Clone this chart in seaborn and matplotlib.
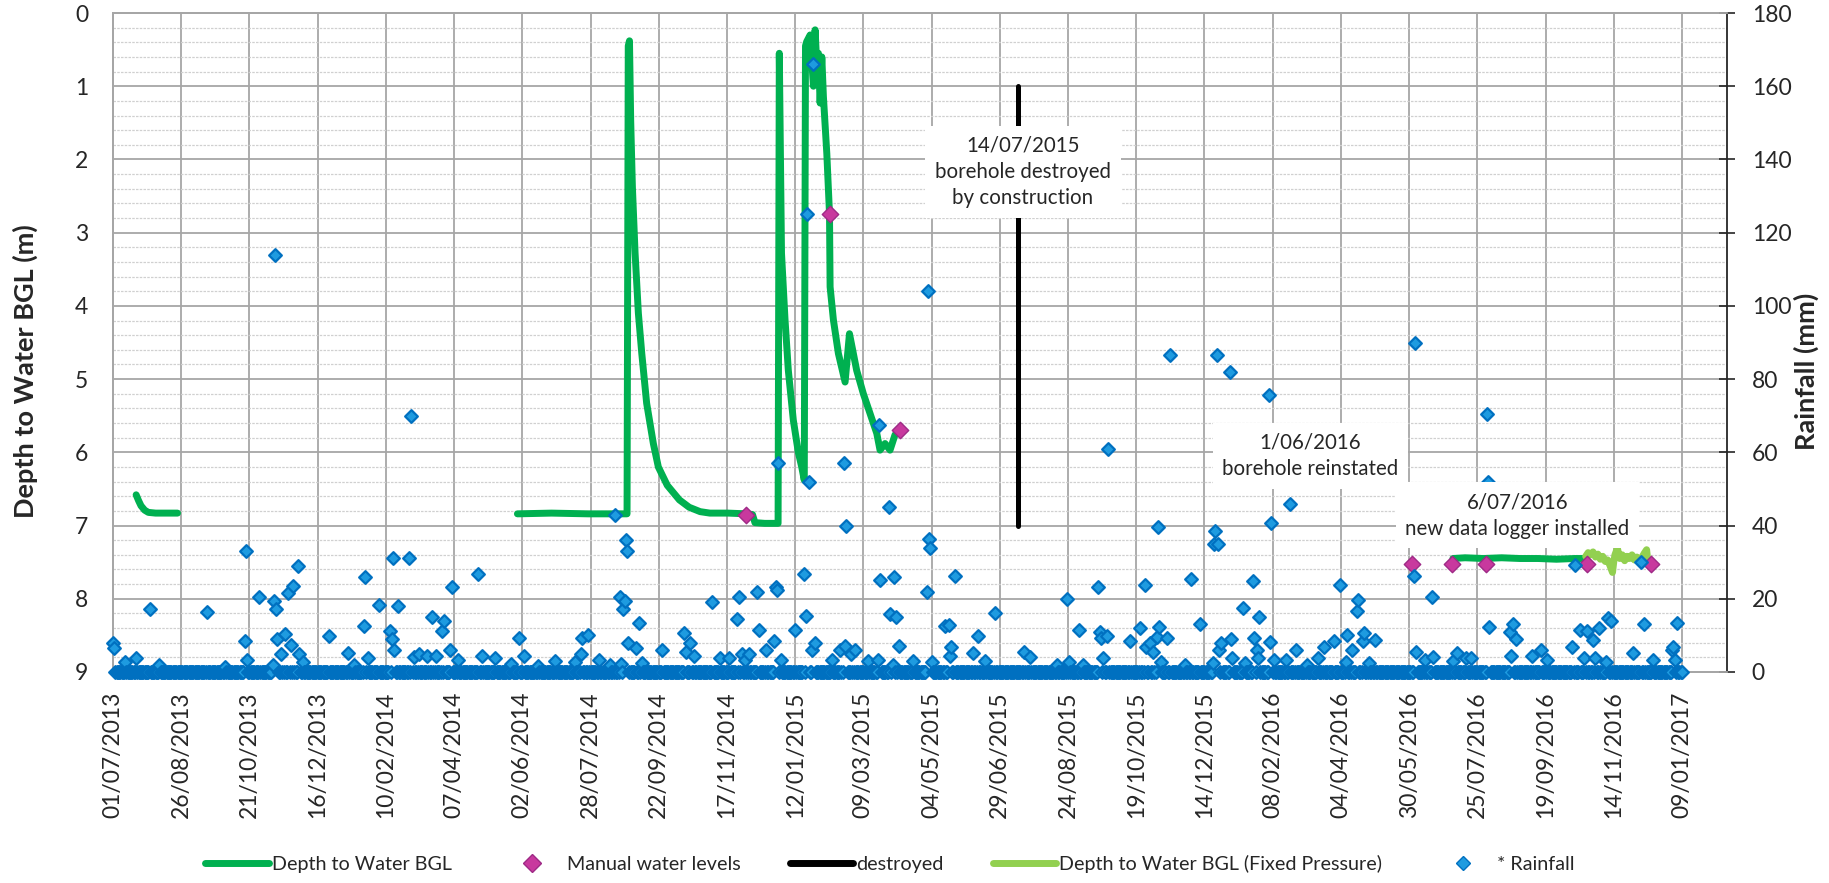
import numpy as np
import pandas as pd
import matplotlib
matplotlib.use("Agg")
import matplotlib.pyplot as plt
import matplotlib.dates as mdates
from matplotlib.ticker import MultipleLocator, FixedLocator
from matplotlib.lines import Line2D
import seaborn as sns

# ---------------------------------------------------------------- data
START = pd.Timestamp("2013-07-01")          # day 0 of every series below
LAST_RAIN_DAY = 1288                        # daily rain record ends 09/01/2017

# Daily rainfall (mm); days not listed recorded 0 mm
rain_days = [
    0, 1, 10, 19, 30, 38, 77, 92, 108, 109, 110, 120, 131, 132, 133, 134, 135,
    138, 141, 144, 146, 148, 152, 153, 156, 177, 193, 198, 206, 207, 209, 218,
    227, 229, 230, 231, 234, 243, 245, 247, 251, 258, 262, 265, 270, 272, 277,
    278, 283, 300, 303, 314, 327, 333, 337, 349, 363, 379, 384, 385, 390, 399,
    408, 412, 416, 417, 419, 420, 421, 422, 423, 429, 432, 434, 451, 469, 470,
    474, 477, 492, 498, 506, 512, 514, 516, 519, 522, 529, 530, 536, 543, 544,
    545, 546, 548, 560, 567, 569, 570, 571, 574, 575, 576, 590, 597, 600, 601,
    602, 606, 609, 620, 628, 629, 630, 637, 638, 640, 641, 643, 645, 657, 668,
    669, 670, 671, 672, 683, 686, 687, 688, 691, 706, 710, 716, 724, 748, 753,
    775, 783, 785, 793, 796, 809, 810, 811, 813, 816, 817, 835, 843, 847, 848,
    851, 854, 857, 858, 859, 860, 865, 868, 880, 885, 892, 903, 904, 905, 906,
    907, 908, 910, 917, 918, 919, 928, 929, 936, 937, 939, 940, 941, 949, 950,
    951, 953, 963, 966, 971, 980, 989, 994, 1002, 1007, 1012, 1013, 1017, 1021,
    1022, 1026, 1027, 1031, 1036, 1068, 1069, 1070, 1077, 1083, 1084, 1100,
    1103, 1111, 1115, 1128, 1129, 1130, 1147, 1148, 1149, 1152, 1165, 1172,
    1177, 1198, 1200, 1204, 1208, 1210, 1215, 1217, 1220, 1226, 1227, 1230,
    1248, 1254, 1257, 1264, 1280, 1281, 1282, 1284,
]
rain_mm = [
    8.0, 6.6, 2.8, 3.7, 17.1, 1.8, 16.4, 1.4, 8.5, 33.0, 3.4, 20.4, 1.8, 19.5, 114.0, 17.1, 8.9,
    5.0, 10.5, 21.7, 7.5, 23.6, 28.9, 5.0, 2.8, 9.8, 5.2, 1.8, 12.6, 26.0, 3.7, 18.3,
    11.3, 8.9, 31.2, 6.1, 18.1, 31.2, 70.0, 4.1, 4.9, 4.3, 14.9, 4.3, 11.2, 13.8, 6.0,
    23.2, 3.4, 26.8, 4.3, 3.7, 2.3, 9.4, 4.3, 1.6, 2.9, 2.8, 4.9, 9.4, 10.1, 3.4,
    1.8, 43.0, 20.4, 2.3, 17.1, 19.5, 36.0, 33.0, 8.0, 6.6, 13.5, 2.5, 6.1, 10.7, 5.5,
    8.0, 4.3, 19.1, 3.9, 3.9, 14.4, 20.4, 4.9, 3.2, 4.9, 21.9, 11.6, 6.0, 8.5, 23.1,
    22.5, 57.0, 3.2, 11.6, 26.9, 15.3, 125.0, 52.0, 6.1, 166.0, 7.8, 3.2, 6.0, 57.0, 7.2,
    40.0, 4.9, 6.0, 3.0, 3.2, 67.6, 25.2, 45.0, 15.8, 1.8, 26.0, 14.9, 7.2, 3.0, 21.9,
    104.0, 36.4, 33.8, 2.8, 12.6, 12.8, 4.3, 6.9, 26.1, 5.2, 9.9, 3.0, 16.0, 5.5, 4.1,
    1.8, 19.9, 2.8, 11.5, 1.8, 23.2, 11.0, 9.4, 3.7, 9.8, 61.0, 8.5, 11.9, 23.8, 6.7,
    7.8, 5.5, 9.6, 39.6, 12.2, 2.8, 9.2, 86.6, 1.8, 25.4, 13.1, 2.5, 35.0, 38.4, 86.6,
    35.0, 6.0, 8.0, 82.0, 8.9, 3.7, 17.4, 2.5, 24.8, 9.2, 6.0, 3.7, 15.1, 75.6, 8.3,
    40.6, 3.2, 3.2, 46.0, 6.0, 1.8, 3.9, 6.7, 8.5, 23.8, 2.8, 10.1, 6.0, 16.7,
    19.7, 8.5, 10.7, 2.5, 8.7, 26.1, 90.0, 5.5, 3.2, 20.4, 4.1, 3.0,
    5.2, 3.7, 3.7, 70.6, 52.0, 12.2, 11.0, 4.3, 13.1, 8.9, 4.3, 6.0,
    3.2, 6.9, 29.2, 11.6, 3.9, 11.3, 8.7, 3.7, 12.1, 2.8, 14.7, 14.0,
    5.2, 30.0, 13.1, 3.2, 6.0, 6.9, 3.2, 13.5,
]

# Logged depth to water below ground level (m), one list pair per logging period
logger_2013_days = [19, 21, 23, 26, 29, 35, 45, 53]
logger_2013_depth = [6.58, 6.66, 6.73, 6.79, 6.82, 6.83, 6.83, 6.83]

logger_2014_days = [
    332, 360, 390, 422, 423, 424, 425, 426.4, 428.6, 431.3, 434.1, 438.1, 443.6,
    447.7, 455, 465, 473, 482, 490, 505, 520, 525, 527, 535, 546, 547, 548.8,
    551.7, 554.4, 558.5, 562.6, 565.4, 567.5, 568.5, 569.5, 572.3, 575, 576.4,
    577.7, 579.1, 580.5, 581.9, 583.2, 586, 588.2, 588.7, 591.4, 595.5, 601,
    604.6, 610.5, 616, 621.5, 627, 629.7, 633.8, 637.9, 642, 646,
]
logger_2014_depth = [
    6.84, 6.83, 6.84, 6.84, 0.45, 0.38, 1.47, 2.38, 3.28, 4.10, 4.65, 5.33, 5.88,
    6.20, 6.45, 6.65, 6.75, 6.81, 6.83, 6.83, 6.84, 6.85, 6.96, 6.97, 6.97, 0.55, 3.28,
    4.19, 4.88, 5.56, 6.00, 6.20, 6.38, 0.45, 0.39, 0.30, 1.00, 0.23,
    0.69, 0.55, 1.23, 0.60, 1.14, 1.92, 2.74, 3.74, 4.19, 4.65, 5.04,
    4.38, 4.88, 5.20, 5.47, 5.74, 5.97, 5.88, 5.97, 5.76, 5.70,
]

logger_2016_days = [1100, 1110, 1125, 1140, 1155, 1170, 1185, 1200, 1209]
logger_2016_depth = [7.45, 7.44, 7.45, 7.44, 7.45, 7.45, 7.46, 7.45, 7.45]

fixed_pressure_days = [
    1209, 1211, 1213, 1215, 1217, 1219, 1221, 1223, 1225, 1227, 1229, 1231,
    1232, 1233, 1235, 1237, 1239, 1241, 1243, 1245, 1247, 1249, 1251, 1253,
    1255, 1257, 1259, 1260, 1261, 1262,
]
fixed_pressure_depth = [
    7.42, 7.37, 7.40, 7.36, 7.43, 7.39, 7.46, 7.42, 7.49, 7.47, 7.55, 7.64,
    7.50, 7.40, 7.31, 7.45, 7.40, 7.48, 7.42, 7.45, 7.40, 7.47, 7.43, 7.50,
    7.44, 7.38, 7.33, 7.48, 7.50, 7.52,
]

manual_days = [520, 588.7, 646, 1066, 1099, 1127, 1210, 1263]
manual_depth = [6.85, 2.74, 5.69, 7.52, 7.52, 7.52, 7.52, 7.52]

destroyed_day = 743                     # 14/07/2015
destroyed_depth = [1.0, 7.0]

notes = [
    (747, 2.17, "14/07/2015\nborehole destroyed\nby construction"),
    (983, 6.05, "1/06/2016\nborehole reinstated"),
    (1153, 6.86, "6/07/2016\nnew data logger installed"),
]

TICK_STEP_DAYS = 56
N_TICKS = 24
X_END_DAY = 1325


def to_dates(days):
    return START + pd.to_timedelta(np.asarray(days, dtype=float), unit="D")


# full daily rainfall record
rain_series = pd.Series(0.0, index=np.arange(LAST_RAIN_DAY + 1))
rain_series.loc[rain_days] = rain_mm
rain_df = pd.DataFrame({"date": to_dates(rain_series.index), "mm": rain_series.values})

# ---------------------------------------------------------------- style
sns.set_theme(style="white")
plt.rcParams["font.family"] = ["Lato", "DejaVu Sans"]

GREEN = "#00B050"
LIGHT_GREEN = "#92D050"
MAGENTA = "#C8399E"
MAGENTA_EDGE = "#9E2A86"
RAIN_FILL = "#1E9BE0"
RAIN_EDGE = "#0070C0"
GRID_MAJOR = "#A6A6A6"
GRID_MINOR = "#D0D0D0"
LINE_W = 5.0

fig = plt.figure(figsize=(18.29, 8.83), dpi=100)
W, H = 1829, 883
ax = fig.add_axes([113 / W, 1 - 672 / H, (1727 - 113) / W, (672 - 13) / H])
ax2 = ax.twinx()

# ---------------------------------------------------------------- depth series (left axis)
line_kw = dict(ax=ax, estimator=None, sort=False, legend=False,
               solid_capstyle="round", solid_joinstyle="round")
for d, v in [(logger_2013_days, logger_2013_depth),
             (logger_2014_days, logger_2014_depth),
             (logger_2016_days, logger_2016_depth)]:
    sns.lineplot(x=to_dates(d), y=v, color=GREEN, linewidth=LINE_W, **line_kw)

sns.lineplot(x=to_dates(fixed_pressure_days), y=fixed_pressure_depth,
             color=LIGHT_GREEN, linewidth=LINE_W, **line_kw)

sns.lineplot(x=to_dates([destroyed_day, destroyed_day]), y=destroyed_depth,
             color="black", linewidth=3.6, ax=ax, estimator=None, sort=False,
             legend=False)

sns.scatterplot(x=to_dates(manual_days), y=manual_depth, marker="D", s=70,
                color=MAGENTA, edgecolor=MAGENTA_EDGE, linewidth=1.0, ax=ax,
                zorder=4, legend=False)

# ---------------------------------------------------------------- rainfall (right axis)
sns.scatterplot(data=rain_df, x="date", y="mm", marker="D", s=42,
                color=RAIN_FILL, edgecolor=RAIN_EDGE, linewidth=1.6, ax=ax2,
                clip_on=False, zorder=3, legend=False)

# ---------------------------------------------------------------- axes
x0 = START
ax.set_xlim(x0, x0 + pd.Timedelta(days=X_END_DAY))
tick_dates = to_dates(np.arange(N_TICKS) * TICK_STEP_DAYS)
ax.xaxis.set_major_locator(FixedLocator(mdates.date2num(tick_dates)))
ax.xaxis.set_major_formatter(mdates.DateFormatter("%d/%m/%Y"))
ax.tick_params(axis="x", which="major", labelsize=16.5, rotation=90, length=0, pad=14)

ax.set_ylim(9, 0)
ax.yaxis.set_major_locator(MultipleLocator(1))
ax.yaxis.set_minor_locator(MultipleLocator(0.2))
ax.tick_params(axis="y", which="both", length=0, labelsize=16.5, pad=18)

ax2.set_ylim(0, 180)
ax2.yaxis.set_major_locator(MultipleLocator(20))
ax2.tick_params(axis="y", direction="inout", length=11.5, width=1.2,
                color="#262626", labelsize=16.5, pad=12)

ax.set_axisbelow(True)
ax.grid(which="major", axis="both", color=GRID_MAJOR, linewidth=1.3)
ax.grid(which="minor", axis="y", color=GRID_MINOR, linewidth=0.9,
        linestyle=(0, (2, 1)))
ax2.grid(False)

for a in (ax, ax2):
    for side in ("top", "left", "bottom"):
        a.spines[side].set_color(GRID_MAJOR)
        a.spines[side].set_linewidth(1.3)
    a.spines["right"].set_visible(False)
ax2.spines["right"].set_visible(True)
ax2.spines["right"].set_color("#262626")
ax2.spines["right"].set_linewidth(1.3)

ax.set_xlabel("")
ax.set_ylabel("")
ax2.set_ylabel("")
fig.text(25 / W, 1 - 371 / H, "Depth to Water BGL (m)", rotation=90,
         ha="center", va="center", fontsize=19.5, fontweight="bold")
fig.text(1806 / W, 1 - 371 / H, "Rainfall (mm)", rotation=90,
         ha="center", va="center", fontsize=19.5, fontweight="bold")

# ---------------------------------------------------------------- notes
for day, depth, label in notes:
    ax2.text(to_dates([day])[0], depth, label, transform=ax.transData,
             ha="center", va="center", fontsize=14.8, linespacing=1.4,
             zorder=10, bbox=dict(facecolor="white", edgecolor="none", pad=7))

# ---------------------------------------------------------------- legend
handles = [
    Line2D([], [], color=GREEN, linewidth=LINE_W),
    Line2D([], [], linestyle="none", marker="D", markersize=9,
           markerfacecolor=MAGENTA, markeredgecolor=MAGENTA_EDGE),
    Line2D([], [], color="black", linewidth=LINE_W),
    Line2D([], [], color=LIGHT_GREEN, linewidth=LINE_W),
    Line2D([], [], linestyle="none", marker="D", markersize=7.5,
           markerfacecolor=RAIN_FILL, markeredgecolor=RAIN_EDGE),
]
labels = ["Depth to Water BGL", "Manual water levels", "destroyed",
          "Depth to Water BGL (Fixed Pressure)", "* Rainfall"]
fig.legend(handles, labels, loc="center", bbox_to_anchor=(890 / W, 1 - 864 / H),
           ncol=5, frameon=False, fontsize=14.2, handlelength=3.2,
           handletextpad=0.15, columnspacing=2.5)

fig.savefig("out.png", dpi=100)
